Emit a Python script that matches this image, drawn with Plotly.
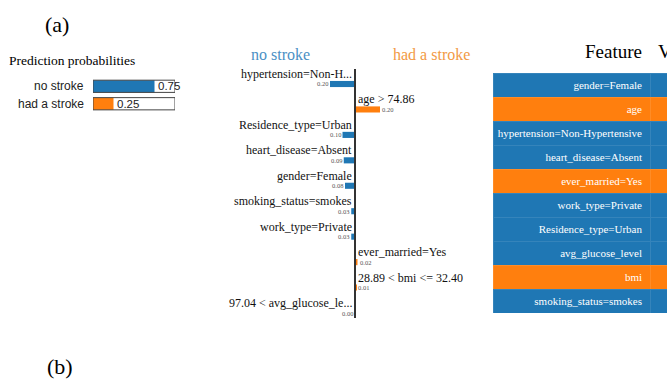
import plotly.graph_objects as go

W, H = 667, 379

# Class probabilities predicted for the explained instance
prob_classes = ["no stroke", "had a stroke"]
prob_values = [0.75, 0.25]

# Local feature weights (negative -> "no stroke", positive -> "had a stroke")
feat_labels = [
    "hypertension=Non-H...",
    "age > 74.86",
    "Residence_type=Urban",
    "heart_disease=Absent",
    "gender=Female",
    "smoking_status=smokes",
    "work_type=Private",
    "ever_married=Yes",
    "28.89 < bmi <= 32.40",
    "97.04 < avg_glucose_le...",
]
feat_weights = [-0.20, 0.20, -0.10, -0.09, -0.08, -0.03, -0.03, 0.02, 0.01, -0.004]

# Feature table rows and the class each feature pushes towards
table_features = [
    "gender=Female",
    "age",
    "hypertension=Non-Hypertensive",
    "heart_disease=Absent",
    "ever_married=Yes",
    "work_type=Private",
    "Residence_type=Urban",
    "avg_glucose_level",
    "bmi",
    "smoking_status=smokes",
]
table_class = ["no stroke", "had a stroke", "no stroke", "no stroke", "had a stroke",
               "no stroke", "no stroke", "no stroke", "had a stroke", "no stroke"]

BLUE = "#1f77b4"
ORANGE = "#ff7f0e"
SERIF = "Liberation Serif, Times New Roman, serif"
SANS = "Liberation Sans, Arial, sans-serif"
class_color = {"no stroke": BLUE, "had a stroke": ORANGE}


def xp(px):
    return px / W


def yp(py):
    return 1 - py / H


fig = go.Figure()

# --- prediction probabilities ---
prob_rows = list(range(len(prob_classes)))
fig.add_trace(go.Bar(
    x=prob_values, y=prob_rows, orientation="h", width=0.7,
    marker=dict(color=[class_color[c] for c in prob_classes], line=dict(width=0)),
    xaxis="x", yaxis="y", showlegend=False, hoverinfo="skip",
))
fig.add_trace(go.Bar(
    x=[1.0] * len(prob_classes), y=prob_rows, orientation="h", width=0.7,
    marker=dict(color="rgba(0,0,0,0)", line=dict(color="#444", width=1)),
    xaxis="x", yaxis="y", showlegend=False, hoverinfo="skip",
))

# --- explanation bars ---
feat_rows = list(range(len(feat_labels)))
fig.add_trace(go.Bar(
    x=feat_weights, y=feat_rows, orientation="h", width=0.24,
    marker=dict(color=[ORANGE if w > 0 else BLUE for w in feat_weights], line=dict(width=0)),
    xaxis="x2", yaxis="y2", showlegend=False, hoverinfo="skip",
))

# --- feature table ---
row_fill = [class_color[c] for c in table_class]
fig.add_trace(go.Table(
    domain=dict(x=[xp(493), 1], y=[yp(313.5), yp(36)]),
    columnwidth=[157, 17],
    header=dict(
        values=["Feature", "Value"],
        fill=dict(color="white"),
        line=dict(color="white", width=0),
        align=["right", "left"],
        font=dict(family=SERIF, size=19, color="black"),
        height=37,
    ),
    cells=dict(
        values=[table_features, [""] * len(table_features)],
        fill=dict(color=[row_fill, row_fill]),
        line=dict(color="rgba(255,255,255,0.2)", width=0.5),
        align=["right", "left"],
        font=dict(family=SERIF, size=11, color="white"),
        height=24,
    ),
))


def paper_text(text, px, py, size, color="black", family=SERIF, xanchor="center"):
    return dict(text=text, x=xp(px), y=yp(py), xref="paper", yref="paper",
                xanchor=xanchor, yanchor="middle", showarrow=False,
                font=dict(family=family, size=size, color=color))


annotations = [
    paper_text("(a)", 57, 24, 22),
    paper_text("(b)", 60, 366, 22),
    paper_text("Prediction probabilities", 7, 61, 13.5, xanchor="left"),
    paper_text("no stroke", 280, 55, 16, color="#4a8fc4"),
    paper_text("had a stroke", 431, 55, 16, color="#f29a45"),
]

for r, (c, v) in enumerate(zip(prob_classes, prob_values)):
    annotations.append(dict(text=c, x=0, y=r, xref="x", yref="y", xanchor="right",
                            yanchor="middle", xshift=-7, showarrow=False,
                            font=dict(family=SANS, size=12, color="#222")))
    annotations.append(dict(text=f"{v:.2f}", x=v, y=r, xref="x", yref="y", xanchor="left",
                            yanchor="middle", xshift=1, showarrow=False,
                            font=dict(family=SANS, size=11.5, color="#222")))

for r, (lab, w) in enumerate(zip(feat_labels, feat_weights)):
    neg = w < 0
    annotations.append(dict(text=lab, x=0, y=r, xref="x2", yref="y2",
                            xanchor="right" if neg else "left", yanchor="middle",
                            xshift=-1 if neg else 1, yshift=10, showarrow=False,
                            font=dict(family=SERIF, size=12, color="#111")))
    annotations.append(dict(text=f"{abs(w):.2f}", x=w, y=r, xref="x2", yref="y2",
                            xanchor="right" if neg else "left", yanchor="middle",
                            xshift=0, showarrow=False,
                            font=dict(family=SERIF, size=6.5, color="#555")))

fig.update_layout(
    width=W, height=H,
    margin=dict(l=0, r=0, t=0, b=0),
    paper_bgcolor="white", plot_bgcolor="rgba(0,0,0,0)",
    barmode="overlay",
    xaxis=dict(domain=[xp(93), xp(175)], range=[0, 1], visible=False, fixedrange=True, anchor="y"),
    yaxis=dict(domain=[yp(113), yp(75)], range=[1.53, -0.647], visible=False, fixedrange=True, anchor="x"),
    xaxis2=dict(domain=[xp(230), xp(480)], range=[-1, 1], visible=False, fixedrange=True, anchor="y2"),
    yaxis2=dict(domain=[yp(320), yp(68)], range=[9.275, -0.629], visible=False, fixedrange=True, anchor="x2"),
    annotations=annotations,
    shapes=[dict(type="line", xref="x2", x0=0, x1=0, yref="paper", y0=yp(318), y1=yp(69),
                 line=dict(color="#333", width=2))],
)

fig.write_html("out.html")
